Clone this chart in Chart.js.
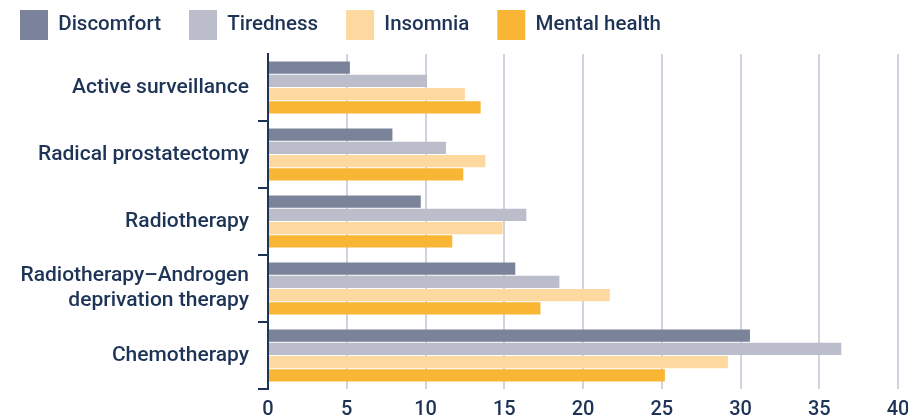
<!DOCTYPE html>
<html>
<head>
<meta charset="utf-8">
<script src="https://cdn.jsdelivr.net/npm/chart.js@4"></script>
<style>
  html, body { margin: 0; padding: 0; background: #fff; }
  #wrap { width: 908px; height: 419px; }
</style>
</head>
<body>
<div id="wrap"><canvas id="sideEffectsChart"></canvas></div>
<script>
const categories = [
  "Active surveillance",
  "Radical prostatectomy",
  "Radiotherapy",
  ["Radiotherapy–Androgen", "deprivation therapy"],
  "Chemotherapy",
];
const discomfort = [5.2, 7.9, 9.7, 15.7, 30.6];
const tiredness = [10.1, 11.3, 16.4, 18.5, 36.4];
const insomnia = [12.5, 13.8, 14.9, 21.7, 29.2];
const mentalHealth = [13.5, 12.4, 11.7, 17.3, 25.2];
const xTicks = [0, 5, 10, 15, 20, 25, 30, 35, 40];

const navy = "#1e3456";
const gridColor = "#d3d2de";

function makeSet(label, data, color) {
  return {
    label,
    data,
    backgroundColor: color,
    categoryPercentage: 0.79,
    barPercentage: 0.92,
  };
}

// a bit more room under the legend
const legendGap = {
  id: "legendGap",
  beforeInit(chart) {
    const fit = chart.legend.fit;
    chart.legend.fit = function () {
      fit.call(this);
      this.height += 4;
    };
  },
};

const chartCanvas = document.getElementById("sideEffectsChart");
new Chart(chartCanvas, {
  type: "bar",
  data: {
    labels: categories,
    datasets: [
      makeSet("Discomfort", discomfort, "#7a8399"),
      makeSet("Tiredness", tiredness, "#bbbdca"),
      makeSet("Insomnia", insomnia, "#fdd9a0"),
      makeSet("Mental health", mentalHealth, "#f9b635"),
    ],
  },
  plugins: [legendGap],
  options: {
    indexAxis: "y",
    responsive: true,
    maintainAspectRatio: false,
    animation: false,
    layout: { padding: { top: -18, right: 0, bottom: 0, left: -8 } },
    plugins: {
      tooltip: { enabled: false },
      legend: {
        position: "top",
        align: "start",
        labels: {
          boxWidth: 28,
          boxHeight: 30,
          padding: 28,
          color: navy,
          font: { family: "Roboto", size: 20.5, weight: "500" },
        },
      },
    },
    scales: {
      x: {
        min: 0,
        max: 40,
        afterBuildTicks: (scale) => {
          scale.ticks = xTicks.map((v) => ({ value: v }));
        },
        afterFit: (scale) => {
          scale.height = 30;
          scale.paddingRight = 10;
        },
        grid: { color: gridColor, lineWidth: 2, drawTicks: false },
        border: { display: false },
        ticks: {
          padding: 9,
          color: navy,
          font: { family: "Roboto", size: 20, weight: "500" },
        },
      },
      y: {
        afterFit: (scale) => {
          scale.width = 276;
        },
        grid: {
          drawOnChartArea: false,
          tickLength: 10,
          lineWidth: 2,
          color: (c) => (c.index === 0 || c.index === categories.length ? "rgba(0,0,0,0)" : navy),
        },
        border: { color: navy, width: 2 },
        ticks: {
          padding: 9,
          color: navy,
          font: { family: "Roboto", size: 21, weight: "500" },
        },
      },
    },
  },
});
</script>
</body>
</html>
